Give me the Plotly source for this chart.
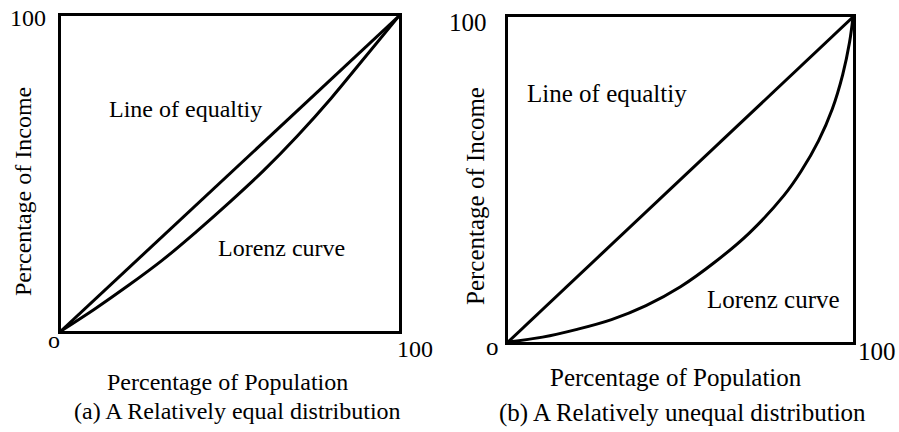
import plotly.graph_objects as go

W, H = 899, 432

# ---- data ----
population = [0, 100]
equality = [0, 100]

pop_a = [0, 10, 20, 30, 40, 50, 60, 70, 80, 90, 100]
lorenz_a = [0, 7, 14.5, 22.5, 31.5, 41, 51, 62, 74, 87, 100]

pop_b = [0, 10, 20, 30, 40, 50, 60, 70, 80, 85, 90, 94, 97, 99, 100]
lorenz_b = [0, 1.5, 3.9, 6.9, 11.2, 17, 24.6, 33.6, 45.1, 52.6, 61.9, 71.7, 82.2, 92.2, 100]

tick_min = "o"
tick_max = "100"
x_title = "Percentage of Population"
y_title = "Percentage of Income"
eq_label = "Line of equaltiy"
lz_label = "Lorenz curve"
caption_a = "(a) A Relatively equal distribution"
caption_b = "(b) A Relatively unequal distribution"

FONT = "Liberation Serif"


def px(x):
    return x / W


def py(y):
    return 1 - y / H


fig = go.Figure()
line_style = dict(color="black", width=3)

fig.add_trace(go.Scatter(x=population, y=equality, mode="lines", line=line_style,
                         xaxis="x", yaxis="y", hoverinfo="skip"))
fig.add_trace(go.Scatter(x=pop_a, y=lorenz_a, mode="lines",
                         line=dict(line_style, shape="spline", smoothing=1),
                         xaxis="x", yaxis="y", hoverinfo="skip"))
fig.add_trace(go.Scatter(x=population, y=equality, mode="lines", line=line_style,
                         xaxis="x2", yaxis="y2", hoverinfo="skip"))
fig.add_trace(go.Scatter(x=pop_b, y=lorenz_b, mode="lines",
                         line=dict(line_style, shape="spline", smoothing=1),
                         xaxis="x2", yaxis="y2", hoverinfo="skip"))

ax = dict(range=[0, 100], showgrid=False, zeroline=False, showticklabels=False,
          ticks="", showline=True, linecolor="black", linewidth=3, mirror=True,
          fixedrange=True)

fig.update_layout(
    width=W, height=H,
    margin=dict(l=0, r=0, t=0, b=0),
    paper_bgcolor="white", plot_bgcolor="white",
    showlegend=False,
    xaxis=dict(ax, domain=[px(61), px(399)], anchor="y"),
    yaxis=dict(ax, domain=[py(331), py(16)], anchor="x"),
    xaxis2=dict(ax, domain=[px(508), px(853)], anchor="y2"),
    yaxis2=dict(ax, domain=[py(342), py(17)], anchor="x2"),
)


def label(text, x, y, size=24, angle=0):
    fig.add_annotation(text=text, x=px(x), y=py(y), xref="paper", yref="paper",
                       showarrow=False, xanchor="center", yanchor="middle",
                       textangle=angle, font=dict(family=FONT, size=size, color="black"))


# left panel
label(tick_max, 28, 18)
label(tick_min, 54, 340)
label(tick_max, 415, 349)
label(y_title, 23, 192, angle=-90)
label(eq_label, 185, 109)
label(lz_label, 281, 248)
label(x_title, 227, 382)
label(caption_a, 237, 411)

# right panel
label(tick_max, 468, 22, size=25)
label(tick_min, 493, 346, size=25)
label(tick_max, 877, 351, size=25)
label(y_title, 475, 196, size=25, angle=-90)
label(eq_label, 607, 93, size=25)
label(lz_label, 773, 299, size=25)
label(x_title, 676, 377, size=25)
label(caption_b, 682, 413, size=25)

fig.write_html(
    "out.html",
    config={"displayModeBar": False, "staticPlot": True},
    post_script="document.body.style.margin='0';document.body.style.padding='0';"
                "document.documentElement.style.overflow='hidden';",
)
